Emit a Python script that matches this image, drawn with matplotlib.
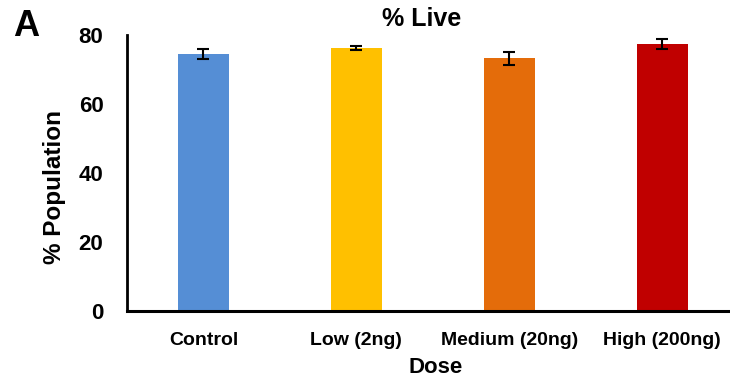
import matplotlib
matplotlib.use("Agg")
import matplotlib.pyplot as plt

# Viability per treatment group
doses = ["Control", "Low (2ng)", "Medium (20ng)", "High (200ng)"]
live_pct = [74.4, 76.3, 73.2, 77.4]
live_err = [1.4, 0.6, 1.9, 1.5]
bar_colors = ["#558ED5", "#FFC000", "#E46C0A", "#C00000"]

plt.rcParams["font.family"] = ["Liberation Sans", "DejaVu Sans"]
plt.rcParams["font.weight"] = "bold"

fig = plt.figure(figsize=(7.3, 3.83), dpi=100)
ax = fig.add_axes([0.174, 0.188, 0.838, 0.7206])

x = range(len(doses))
ax.bar(x, live_pct, width=0.33, color=bar_colors, zorder=2)
ax.errorbar(x, live_pct, yerr=live_err, fmt="none", ecolor="black",
            elinewidth=1.5, capsize=4.3, capthick=1.5, zorder=3)

ax.set_xlim(-0.5, 3.5)
ax.set_ylim(0, 80)
ax.set_yticks([0, 20, 40, 60, 80])
ax.set_xticks(list(x))
ax.set_xticklabels(doses, fontsize=14, fontweight="bold")
ax.tick_params(axis="y", length=0, pad=17, labelsize=16)
ax.tick_params(axis="x", length=0, pad=15)
for lbl in ax.get_yticklabels():
    lbl.set_fontweight("bold")

for side in ["top", "right"]:
    ax.spines[side].set_visible(False)
ax.spines["left"].set_linewidth(2)
ax.spines["bottom"].set_linewidth(2.2)

ax.set_xlabel("Dose", fontsize=16, fontweight="bold")
ax.xaxis.set_label_coords(0.505, -0.168)
ax.set_ylabel("% Population", fontsize=17.5, fontweight="bold")
ax.yaxis.set_label_coords(-0.1, 0.45)
fig.text(0.577, 0.95, "% Live", ha="center", va="center",
         fontsize=18, fontweight="bold")
fig.text(0.036, 0.93, "A", ha="center", va="center",
         fontsize=26, fontweight="bold")

fig.savefig("out.png", dpi=100)
